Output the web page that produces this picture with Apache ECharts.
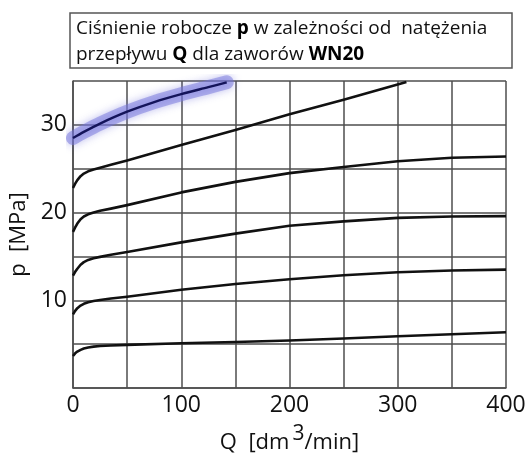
<!DOCTYPE html>
<html>
<head>
<meta charset="utf-8">
<script src="https://cdn.jsdelivr.net/npm/echarts@6/dist/echarts.min.js"></script>
<style>html,body{margin:0;padding:0;background:#fff}#c{width:526px;height:456px}</style>
</head>
<body>
<div id="c"></div>
<script>
// ---- data ----
var qMain = [0, 2, 4, 7, 10, 14, 19, 25, 35, 50, 100, 150, 200, 250, 300, 350, 400];
var p1 = [3.65, 3.95, 4.15, 4.35, 4.5, 4.62, 4.72, 4.78, 4.85, 4.92, 5.1, 5.25, 5.42, 5.65, 5.9, 6.12, 6.35];
var p2 = [8.4, 8.8, 9.1, 9.4, 9.6, 9.78, 9.92, 10.03, 10.2, 10.4, 11.2, 11.85, 12.4, 12.85, 13.2, 13.4, 13.5];
var p3 = [12.8, 13.25, 13.6, 14.05, 14.35, 14.6, 14.8, 14.95, 15.2, 15.5, 16.6, 17.6, 18.5, 19.0, 19.4, 19.55, 19.6];
var p4 = [17.8, 18.3, 18.75, 19.25, 19.55, 19.8, 20.0, 20.2, 20.45, 20.85, 22.3, 23.5, 24.5, 25.2, 25.85, 26.25, 26.4];
var q5 = [0, 2, 4, 7, 10, 14, 19, 25, 35, 50, 100, 150, 200, 250, 308];
var p5 = [22.8, 23.3, 23.7, 24.15, 24.45, 24.7, 24.9, 25.1, 25.45, 25.95, 27.7, 29.4, 31.2, 32.85, 34.9];
var qBlue = [0, 10, 25, 50, 75, 100, 125, 142];
var pBlue = [28.5, 29.2, 30.15, 31.5, 32.6, 33.5, 34.3, 34.85];
var xTicks = [0, 100, 200, 300, 400];
var yTicks = [10, 20, 30];

function pairs(q, p) { return q.map(function (v, i) { return [v, p[i]]; }); }

var FONT = '"Open Sans", sans-serif';
var GRID = '#4e4e4e';

function blackLine(q, p) {
  return {
    type: 'line', data: pairs(q, p), smooth: false,
    showSymbol: false, symbol: 'none', silent: true,
    lineStyle: { color: '#111', width: 2.6, join: 'round' }
  };
}

var chart = echarts.init(document.getElementById('c'), null, { renderer: 'canvas' });
chart.setOption({
  animation: false,
  backgroundColor: '#fff',
  grid: { left: 73, right: 20, top: 81, bottom: 68, containLabel: false, outerBoundsMode: 'none' },
  graphic: [
    { type: 'rect', shape: { x: 70, y: 13, width: 442, height: 55 },
      style: { fill: '#fff', stroke: '#555', lineWidth: 1.5 } },
    { type: 'text', left: 76, top: 16,
      style: {
        text: 'Ciśnienie robocze {b|p} w zależności od  natężenia\nprzepływu {b|Q} dla zaworów {b|WN20}',
        font: '19px ' + FONT, fill: '#111', lineHeight: 26,
        rich: { b: { fontWeight: 'bold', fontSize: 19, fontFamily: FONT, fill: '#000', lineHeight: 26 } }
      } }
  ],
  xAxis: {
    type: 'value', min: 0, max: 400, interval: 50,
    name: '{n|Q  [dm}{s|3}{n|/min]}', nameLocation: 'middle', nameGap: 36,
    nameTextStyle: {
      rich: {
        n: { fontSize: 22, fontFamily: FONT, color: '#111' },
        s: { fontSize: 21, fontFamily: FONT, color: '#111', padding: [0, 0, 16, 3] }
      }
    },
    axisLine: { show: true, lineStyle: { color: GRID, width: 1.5 } },
    axisTick: { show: false },
    splitLine: { show: true, lineStyle: { color: GRID, width: 1.5 } },
    axisLabel: {
      fontSize: 23, fontFamily: FONT, color: '#111', margin: 6,
      formatter: function (v) { return xTicks.indexOf(v) >= 0 ? String(v) : ''; }
    }
  },
  yAxis: {
    type: 'value', min: 0, max: 35, interval: 5,
    name: 'p  [MPa]', nameLocation: 'middle', nameGap: 43,
    nameTextStyle: { fontSize: 22, fontFamily: FONT, color: '#111' },
    axisLine: { show: true, lineStyle: { color: GRID, width: 1.5 } },
    axisTick: { show: false },
    splitLine: { show: true, lineStyle: { color: GRID, width: 1.5 } },
    axisLabel: {
      fontSize: 23, fontFamily: FONT, color: '#111', margin: 6,
      formatter: function (v) { return yTicks.indexOf(v) >= 0 ? String(v) : ''; }
    }
  },
  series: [
    blackLine(qMain, p1),
    blackLine(qMain, p2),
    blackLine(qMain, p3),
    blackLine(qMain, p4),
    blackLine(q5, p5),
    {
      type: 'line', data: pairs(qBlue, pBlue), smooth: 0.3, showSymbol: false, symbol: 'none', silent: true,
      lineStyle: { color: 'rgba(115,115,220,0.5)', width: 14, cap: 'round', join: 'round',
        shadowColor: 'rgba(115,115,220,0.9)', shadowBlur: 9 }
    },
    {
      type: 'line', data: pairs(qBlue, pBlue), smooth: 0.3, showSymbol: false, symbol: 'none', silent: true,
      lineStyle: { color: '#14145a', width: 2.4 }
    }
  ]
});
</script>
</body>
</html>
